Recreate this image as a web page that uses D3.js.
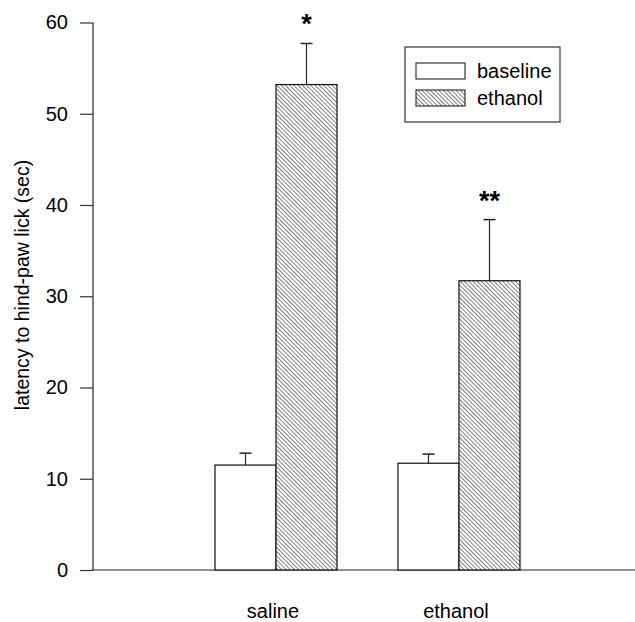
<!DOCTYPE html>
<html><head><meta charset="utf-8">
<script src="https://cdn.jsdelivr.net/npm/d3@7"></script>
<style>html,body{margin:0;padding:0;background:#fff;} svg{display:block;font-family:"Liberation Sans",Arial,sans-serif;}</style>
</head><body>
<script>
const categories = ["saline", "ethanol"];
const seriesNames = ["baseline", "ethanol"];
const baselineValues = [11.5, 11.7];
const baselineErrors = [1.3, 1.0];
const ethanolValues = [53.2, 31.7];
const ethanolErrors = [4.5, 6.7];
const significance = ["*", "**"];
const yTicks = [0, 10, 20, 30, 40, 50, 60];

const W = 635, H = 622;
const svg = d3.select("body").append("svg").attr("width", W).attr("height", H);

const defs = svg.append("defs");
const pat = defs.append("pattern").attr("id", "hatch").attr("patternUnits", "userSpaceOnUse")
  .attr("width", 3).attr("height", 3).attr("patternTransform", "rotate(-45)");
pat.append("rect").attr("width", 3).attr("height", 3).attr("fill", "#fff");
pat.append("line").attr("x1", 0).attr("y1", 0).attr("x2", 0).attr("y2", 3)
  .attr("stroke", "#3a3a3a").attr("stroke-width", 1.3);

const y = d3.scaleLinear().domain([0, 60]).range([570, 22.5]);
const xg = d3.scaleLinear().domain([0, 3]).range([93, 642]);
const barW = 61;

// axes
const yAxis = d3.axisLeft(y).tickValues(yTicks).tickSize(13).tickPadding(12);
const gy = svg.append("g").attr("transform", "translate(93,0)").call(yAxis);
gy.select(".domain").attr("stroke", "#222").attr("stroke-width", 1.2).attr("d", `M0,${y(60)}V${y(0)}`);
gy.selectAll(".tick line").attr("stroke", "#333").attr("stroke-width", 1.2);
gy.selectAll(".tick text").attr("font-size", 20).attr("fill", "#000").attr("font-family", "Liberation Sans, Arial, sans-serif");

svg.append("line").attr("x1", 93).attr("x2", 635).attr("y1", y(0)).attr("y2", y(0))
  .attr("stroke", "#222").attr("stroke-width", 1.2);

// data rows
const rows = [];
categories.forEach((c, i) => {
  rows.push({cat: c, i, s: 0, v: baselineValues[i], e: baselineErrors[i]});
  rows.push({cat: c, i, s: 1, v: ethanolValues[i], e: ethanolErrors[i]});
});
const barX = d => xg(d.i + 1) - barW + d.s * barW;

// error bars
const eg = svg.append("g");
rows.forEach(d => {
  const cx = barX(d) + barW / 2;
  eg.append("line").attr("x1", cx).attr("x2", cx).attr("y1", y(d.v)).attr("y2", y(d.v + d.e))
    .attr("stroke", "#222").attr("stroke-width", 1.2);
  eg.append("line").attr("x1", cx - 6).attr("x2", cx + 6).attr("y1", y(d.v + d.e)).attr("y2", y(d.v + d.e))
    .attr("stroke", "#222").attr("stroke-width", 1.5);
});

svg.append("g").selectAll("rect").data(rows).join("rect")
  .attr("x", barX).attr("width", barW)
  .attr("y", d => y(d.v)).attr("height", d => y(0) - y(d.v))
  .attr("fill", d => d.s === 0 ? "#fff" : "url(#hatch)")
  .attr("stroke", "#111").attr("stroke-width", 1.2);

// significance
categories.forEach((c, i) => {
  const cx = xg(i + 1) + barW / 2;
  const top = y(ethanolValues[i] + ethanolErrors[i]);
  svg.append("text").attr("x", cx).attr("y", top - 10).attr("text-anchor", "middle")
    .attr("font-size", 27).attr("font-weight", "bold").text(significance[i]);
});

// category labels
svg.append("g").selectAll("text").data(categories).join("text")
  .attr("x", (d, i) => xg(i + 1) - 3).attr("y", 618).attr("text-anchor", "middle")
  .attr("font-size", 20).text(d => d);

// y label
svg.append("text").attr("transform", "translate(29,285) rotate(-90)").attr("text-anchor", "middle")
  .attr("font-size", 19.5).text("latency to hind-paw lick (sec)");

// legend
const lg = svg.append("g");
lg.append("rect").attr("x", 405).attr("y", 47).attr("width", 155).attr("height", 75)
  .attr("fill", "#fff").attr("stroke", "#333").attr("stroke-width", 1.2);
seriesNames.forEach((n, k) => {
  lg.append("rect").attr("x", 416).attr("y", 63 + k * 27).attr("width", 49).attr("height", 16)
    .attr("fill", k === 0 ? "#fff" : "url(#hatch)").attr("stroke", "#222").attr("stroke-width", 1.1);
  lg.append("text").attr("x", 477).attr("y", 63 + k * 27 + 15).attr("font-size", 20).text(n);
});
</script>
</body></html>
